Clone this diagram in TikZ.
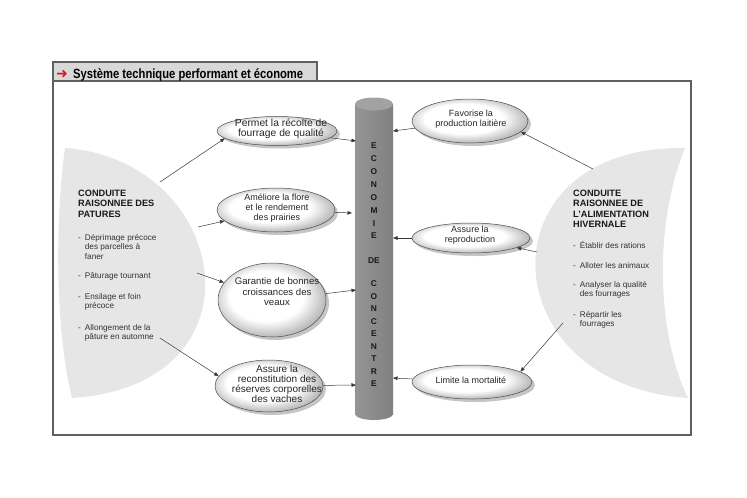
\documentclass[tikz,border=0pt]{standalone}
\usepackage{fontspec}
\setmainfont{Liberation Sans}
\newfontfamily\dejavu{DejaVu Sans}
\usepackage{graphicx}
\usetikzlibrary{shapes.geometric,shadows,arrows.meta}

\definecolor{crescentc}{HTML}{E6E6E6}
\definecolor{framec}{HTML}{606060}
\definecolor{titlebg}{HTML}{D8D8D8}
\definecolor{linec}{HTML}{383838}
\definecolor{titlered}{HTML}{E0141E}
\definecolor{cylleft}{HTML}{959595}
\definecolor{cylmid}{HTML}{9A9A9A}
\definecolor{cylright}{HTML}{808080}
\definecolor{cyltop}{HTML}{A2A2A2}

\pgfdeclareradialshading{ellshade}{\pgfpoint{-4bp}{4bp}}{%
  color(0bp)=(white); color(17bp)=(white); color(27bp)=(black!28); color(50bp)=(black!28)}

\newcommand{\itembox}[1]{\begin{tabular}[t]{@{}l@{\hspace{4pt}}l@{}}#1\end{tabular}}

\begin{document}
\begin{tikzpicture}[x=1pt,y=-1pt,
  ell/.style={ellipse, draw=black!70, line width=0.5pt, inner sep=0pt,
    shade, shading=ellshade,
    drop shadow={shadow xshift=3pt, shadow yshift=-3pt, fill=black!45, opacity=0.5}},
  etxt/.style={align=center, inner sep=0pt, text=black!85},
  arr/.style={draw=linec, line width=0.5pt, -{Triangle[length=4.5pt,width=3.6pt]}},
  head/.style={anchor=base west, align=left, inner sep=0pt, text=black!90,
    font=\bfseries\fontsize{9.2}{10.5}\selectfont},
  itm/.style={anchor=base west, inner sep=0pt, text=black!80,
    font=\fontsize{8.2}{9.7}\selectfont},
  cyltxt/.style={align=center, inner sep=0pt, text=black!90}
]
\useasboundingbox (0,0) rectangle (747,498);

% crescents
\fill[crescentc] (65,148) .. controls (230,160) and (270,385) .. (72,398)
  .. controls (55,330) and (55,220) .. (65,148) -- cycle;
\fill[crescentc] (685,148) .. controls (480,145) and (490,385) .. (688,398)
  .. controls (655,330) and (655,220) .. (685,148) -- cycle;

% frame and title
\draw[framec, line width=1.2pt] (317,81) -- (691,81) -- (691,435) -- (53,435) -- (53,81);
\draw[framec, line width=1.2pt, fill=titlebg] (53,62) rectangle (317,81);
\node[anchor=base west, inner sep=0pt, text=titlered] (tarr) at (56,78.5)
  {\dejavu\bfseries\fontsize{14}{14}\selectfont ➜};
\node[anchor=base west, inner sep=0pt] (ttl) at (73,78.5)
  {\resizebox{230pt}{9.8pt}{\bfseries Système technique performant et économe}};

% cylinder
\shade[left color=cylleft, middle color=cylmid, right color=cylright]
  (355,104) rectangle (393,414);
\shade[left color=cylleft, middle color=cylmid, right color=cylright]
  (374,414) ellipse [x radius=19, y radius=6];
\fill[cyltop] (374,104) ellipse [x radius=19, y radius=6.5];
\node[minimum width=38pt, minimum height=320pt, inner sep=0pt] (cyl) at (374,259) {};
\node[cyltxt, font=\bfseries\fontsize{8.4}{12.86}\selectfont] (ct1) at (374,191)
  {E\\C\\O\\N\\O\\M\\I\\E};
\node[cyltxt, font=\bfseries\fontsize{8.4}{12}\selectfont] (ct2) at (374,261) {DE};
\node[cyltxt, font=\bfseries\fontsize{8.4}{12.5}\selectfont] (ct3) at (374,334)
  {C\\O\\N\\C\\E\\N\\T\\R\\E};

% ellipses left
\node[ell, minimum width=120pt, minimum height=29pt] (e1) at (277,131) {};
\node[ell, minimum width=118pt, minimum height=44pt] (e2) at (276,210) {};
\node[ell, minimum width=108pt, minimum height=74pt] (e3) at (272,300) {};
\node[ell, minimum width=108pt, minimum height=52pt] (e4) at (269,386) {};
\node[etxt, font=\fontsize{10.3}{10}\selectfont] (t1) at (281,128.5)
  {Permet la récolte de\\fourrage de qualité};
\node[etxt, font=\fontsize{9}{10.3}\selectfont] (t2) at (277,208)
  {Améliore la flore\\et le rendement\\des prairies};
\node[etxt, font=\fontsize{9.6}{10.5}\selectfont] (t3) at (277,292)
  {Garantie de bonnes\\croissances des\\veaux};
\node[etxt, font=\fontsize{10}{10}\selectfont] (t4) at (277,384)
  {Assure la\\reconstitution des\\réserves corporelles\\des vaches};

% ellipses right
\node[ell, minimum width=116pt, minimum height=44pt] (e5) at (470,121) {};
\node[ell, minimum width=118pt, minimum height=30pt] (e6) at (471,238) {};
\node[ell, minimum width=120pt, minimum height=34pt] (e7) at (472,382) {};
\node[etxt, font=\fontsize{9}{10.3}\selectfont] (t5) at (471,119.5)
  {Favorise la\\production laitière};
\node[etxt, font=\fontsize{9}{10.3}\selectfont] (t6) at (470,235.5)
  {Assure la\\reproduction};
\node[etxt, font=\fontsize{9}{10.3}\selectfont] (t7) at (471,380.5)
  {Limite la mortalité};

% crescent texts (base anchor = last line)
\node[head] (lh) at (78,217) {CONDUITE\\RAISONNEE DES\\PATURES};
\node[itm] (li1) at (78,240) {\itembox{-&Déprimage précoce\\&des parcelles à\\&faner}};
\node[itm] (li2) at (78,278) {\itembox{-&Pâturage tournant}};
\node[itm] (li3) at (78,299) {\itembox{-&Ensilage et foin\\&précoce}};
\node[itm] (li4) at (78,330) {\itembox{-&Allongement de la\\&pâture en automne}};

\node[head] (rh) at (573,227.5) {CONDUITE\\RAISONNEE DE\\L'ALIMENTATION\\HIVERNALE};
\node[itm] (ri1) at (573,248) {\itembox{-&Établir des rations}};
\node[itm] (ri2) at (573,268) {\itembox{-&Alloter les animaux}};
\node[itm] (ri3) at (573,287) {\itembox{-&Analyser la qualité\\&des fourrages}};
\node[itm] (ri4) at (573,317) {\itembox{-&Répartir les\\&fourrages}};

% connector ends
\coordinate (l1) at (160,182);
\coordinate (l2) at (198,227);
\coordinate (l3) at (197,273);
\coordinate (l4) at (160,338);
\coordinate (r1) at (593,169);
\coordinate (r2) at (537,252);
\coordinate (r3) at (563,323);
\coordinate (c1) at (356,141);
\coordinate (c2) at (352,213);
\coordinate (c3) at (356,290);
\coordinate (c4) at (356,385);
\coordinate (c5) at (393,131);
\coordinate (c6) at (393,238);
\coordinate (c7) at (393,378);

% connectors
\draw[arr] (l1) -- (e1.188);
\draw[arr] (l2) -- (e2.192);
\draw[arr] (l3) -- (e3.160);
\draw[arr] (l4) -- (e4.169);
\draw[arr] (e1) -- (c1);
\draw[arr] (e2) -- (c2);
\draw[arr] (e3) -- (c3);
\draw[arr] (e4) -- (c4);
\draw[arr] (e5) -- (c5);
\draw[arr] (e6) -- (c6);
\draw[arr] (e7) -- (c7);
\draw[arr] (r1) -- (e5.-12);
\draw[arr] (r2) -- (e6);
\draw[arr] (r3) -- (e7.12);
\end{tikzpicture}
\end{document}
